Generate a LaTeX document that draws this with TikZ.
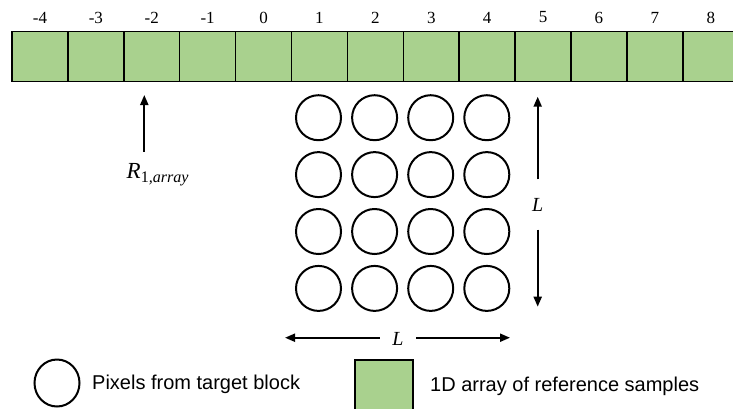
\documentclass[tikz,border=0pt]{standalone}
\usepackage{fontspec}
\setmainfont{Liberation Serif}
\newfontfamily\legendfont{Liberation Sans}
\usetikzlibrary{arrows.meta,shapes.geometric}
\definecolor{refgreen}{HTML}{A9D18E}
\tikzset{
  cell/.style={draw=black, line width=1.5pt, fill=refgreen, minimum width=55.9pt, minimum height=50pt, inner sep=0pt},
  idx/.style={font=\fontsize{17}{19}\selectfont, inner sep=0pt},
  pix/.style={draw=black, line width=2pt, circle, minimum size=45pt, inner sep=0pt},
  arr/.style={line width=2pt, -{Triangle[length=10pt,width=8pt]}},
  dimlabel/.style={font=\fontsize{20}{22}\selectfont\itshape, inner sep=0pt},
  legtext/.style={font=\legendfont\fontsize{20}{22}\selectfont, anchor=west, inner sep=0pt}
}
\begin{document}
\begin{tikzpicture}[x=1pt, y=-1pt]
  \useasboundingbox (0,0) rectangle (733,408);
  \clip (0,0) rectangle (733,408);

  % reference sample array with its indices
  \foreach \k [evaluate=\k as \n using int(\k-4)] in {0,...,12} {
    \node[cell] (c\k) at ({12+55.9*(\k+0.5)}, 56.7) {};
    \node[idx] (n\k) at ({12+55.9*(\k+0.5)}, 17.5) {\n};
  }

  % pointer to R_{1,array}
  \node[font=\fontsize{23}{25}\selectfont, inner sep=0pt, anchor=west] (rlabel) at (126.5,175)
    {\itshape R\textsubscript{\upshape 1\itshape ,array}};
  \coordinate (rtail) at (144.3,151.7);
  \coordinate (rtip) at (144.3,95);
  \draw[arr] (rtail) -- (rtip);

  % 4x4 target block
  \foreach \i in {0,...,3} {
    \foreach \j in {0,...,3} {
      \node[pix] (p\i\j) at ({318.5+56.1*\j}, {117.7+56.9*\i}) {};
    }
  }

  % block size, vertical
  \node[dimlabel, minimum height=50pt] (Lv) at (537.7,204.5) {L};
  \coordinate (vtop) at (537.7,96.7);
  \coordinate (vbot) at (537.7,306.7);
  \draw[arr] (Lv) -- (vtop);
  \draw[arr] (Lv) -- (vbot);

  % block size, horizontal
  \node[dimlabel, minimum width=36pt] (Lh) at (398,338.5) {L};
  \coordinate (hleft) at (285,337.7);
  \coordinate (hright) at (510,337.7);
  \draw[arr] (Lh.west |- hleft) -- (hleft);
  \draw[arr] (Lh.east |- hright) -- (hright);

  % legend
  \node[pix, ellipse, minimum width=45pt, minimum height=47pt] (legpix) at (57,383) {};
  \node[legtext] (legpixtext) at (92,384) {Pixels from target block};
  \node[cell, minimum width=58pt, minimum height=56pt] (legcell) at (384,388) {};
  \node[legtext] (legcelltext) at (430,386) {1D array of reference samples};
\end{tikzpicture}
\end{document}
